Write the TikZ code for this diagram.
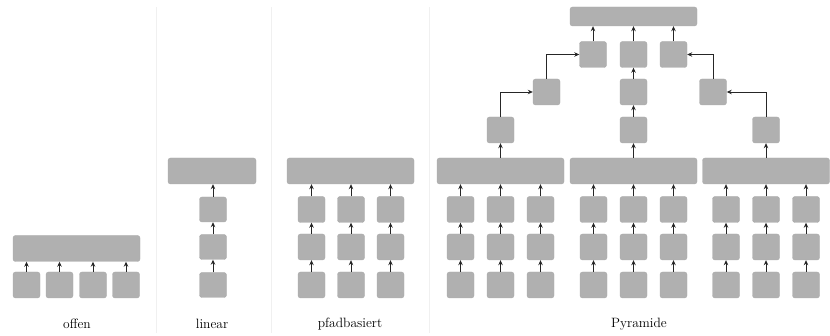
\documentclass[tikz,border=0pt]{standalone}
\usetikzlibrary{arrows.meta}
\begin{document}
\begin{tikzpicture}[x=1pt,y=-1pt,
  blk/.style={draw=black!33,fill=black!31,rounded corners=2.5pt,line width=0.4pt,inner sep=0pt},
  sbox/.style={blk,minimum width=27pt,minimum height=26pt},
  wbox/.style={blk,minimum width=127pt,minimum height=26pt},
  arr/.style={-{Stealth[length=5pt,width=4.5pt]},line width=0.8pt,black!85},
  sep/.style={draw=black!6,line width=0.8pt},
  lbl/.style={font=\fontsize{13.5}{15}\selectfont,inner sep=0pt}]
\useasboundingbox (0,0) rectangle (830,336);
% separators
\coordinate (s1t) at (156,7); \coordinate (s1b) at (156,333);
\coordinate (s2t) at (271,7); \coordinate (s2b) at (271,333);
\coordinate (s3t) at (429,7); \coordinate (s3b) at (429,333);
\draw[sep] (s1t) -- (s1b); \draw[sep] (s2t) -- (s2b); \draw[sep] (s3t) -- (s3b);
% offen
\node[wbox] (ow) at (76.5,248.5) {};
\foreach \i/\x in {1/26.5,2/59.5,3/93,4/126}{
  \node[sbox] (o\i) at (\x,285) {};
  \draw[arr] (o\i.north) -- (o\i.north |- ow.south);
}
\node[lbl] (lo) at (77,324) {offen};
% linear
\node[blk,minimum width=88pt,minimum height=26pt] (lw) at (212,171) {};
\foreach \r/\y in {1/209.5,2/247,3/285}{
  \node[sbox,minimum height=25pt] (l\r) at (213,\y) {};
}
\draw[arr] (l1.north) -- (l1.north |- lw.south);
\draw[arr] (l2) -- (l1);
\draw[arr] (l3) -- (l2);
\node[lbl] (ll) at (212,324) {linear};
% pfadbasiert
\node[wbox] (pw) at (350.5,171) {};
\foreach \c/\x in {1/311.5,2/351,3/390.5}{
  \foreach \r/\y in {1/209.5,2/247,3/285}{
    \node[sbox] (p\c\r) at (\x,\y) {};
  }
  \draw[arr] (p\c1.north) -- (p\c1.north |- pw.south);
  \draw[arr] (p\c2) -- (p\c1);
  \draw[arr] (p\c3) -- (p\c2);
}
\node[lbl] (lp) at (350,324) {pfadbasiert};
% Pyramide base
\foreach \g/\gx in {L/500.5,M/633.5,R/766}{
  \node[wbox] (w\g) at (\gx,171) {};
  \foreach \c/\dx in {1/-40,2/0,3/40}{
    \foreach \r/\y in {1/209.5,2/247,3/285}{
      \node[sbox] (y\g\c\r) at (\gx+\dx,\y) {};
    }
    \draw[arr] (y\g\c1.north) -- (y\g\c1.north |- w\g.south);
    \draw[arr] (y\g\c2) -- (y\g\c1);
    \draw[arr] (y\g\c3) -- (y\g\c2);
  }
}
% upper levels
\node[sbox] (cL) at (500.5,130) {};
\node[sbox] (cM) at (633.5,130) {};
\node[sbox] (cR) at (766,130) {};
\node[sbox] (bL) at (546.5,92) {};
\node[sbox] (bM) at (633.5,92) {};
\node[sbox] (bR) at (713,92) {};
\node[sbox] (aL) at (593,54.5) {};
\node[sbox] (aM) at (633.5,54.5) {};
\node[sbox] (aR) at (673.5,54.5) {};
\node[blk,minimum width=127pt,minimum height=19pt] (top) at (633.5,16.5) {};
\draw[arr] (wL.north) -- (cL.south);
\draw[arr] (wM.north) -- (cM.south);
\draw[arr] (wR.north) -- (cR.south);
\draw[arr] (cL.north) |- (bL.west);
\draw[arr] (bL.north) |- (aL.west);
\draw[arr] (cM) -- (bM);
\draw[arr] (bM) -- (aM);
\draw[arr] (cR.north) |- (bR.east);
\draw[arr] (bR.north) |- (aR.east);
\draw[arr] (aL.north) -- (aL.north |- top.south);
\draw[arr] (aM.north) -- (aM.north |- top.south);
\draw[arr] (aR.north) -- (aR.north |- top.south);
\node[lbl] (ly) at (639,324) {Pyramide};
\end{tikzpicture}
\end{document}
